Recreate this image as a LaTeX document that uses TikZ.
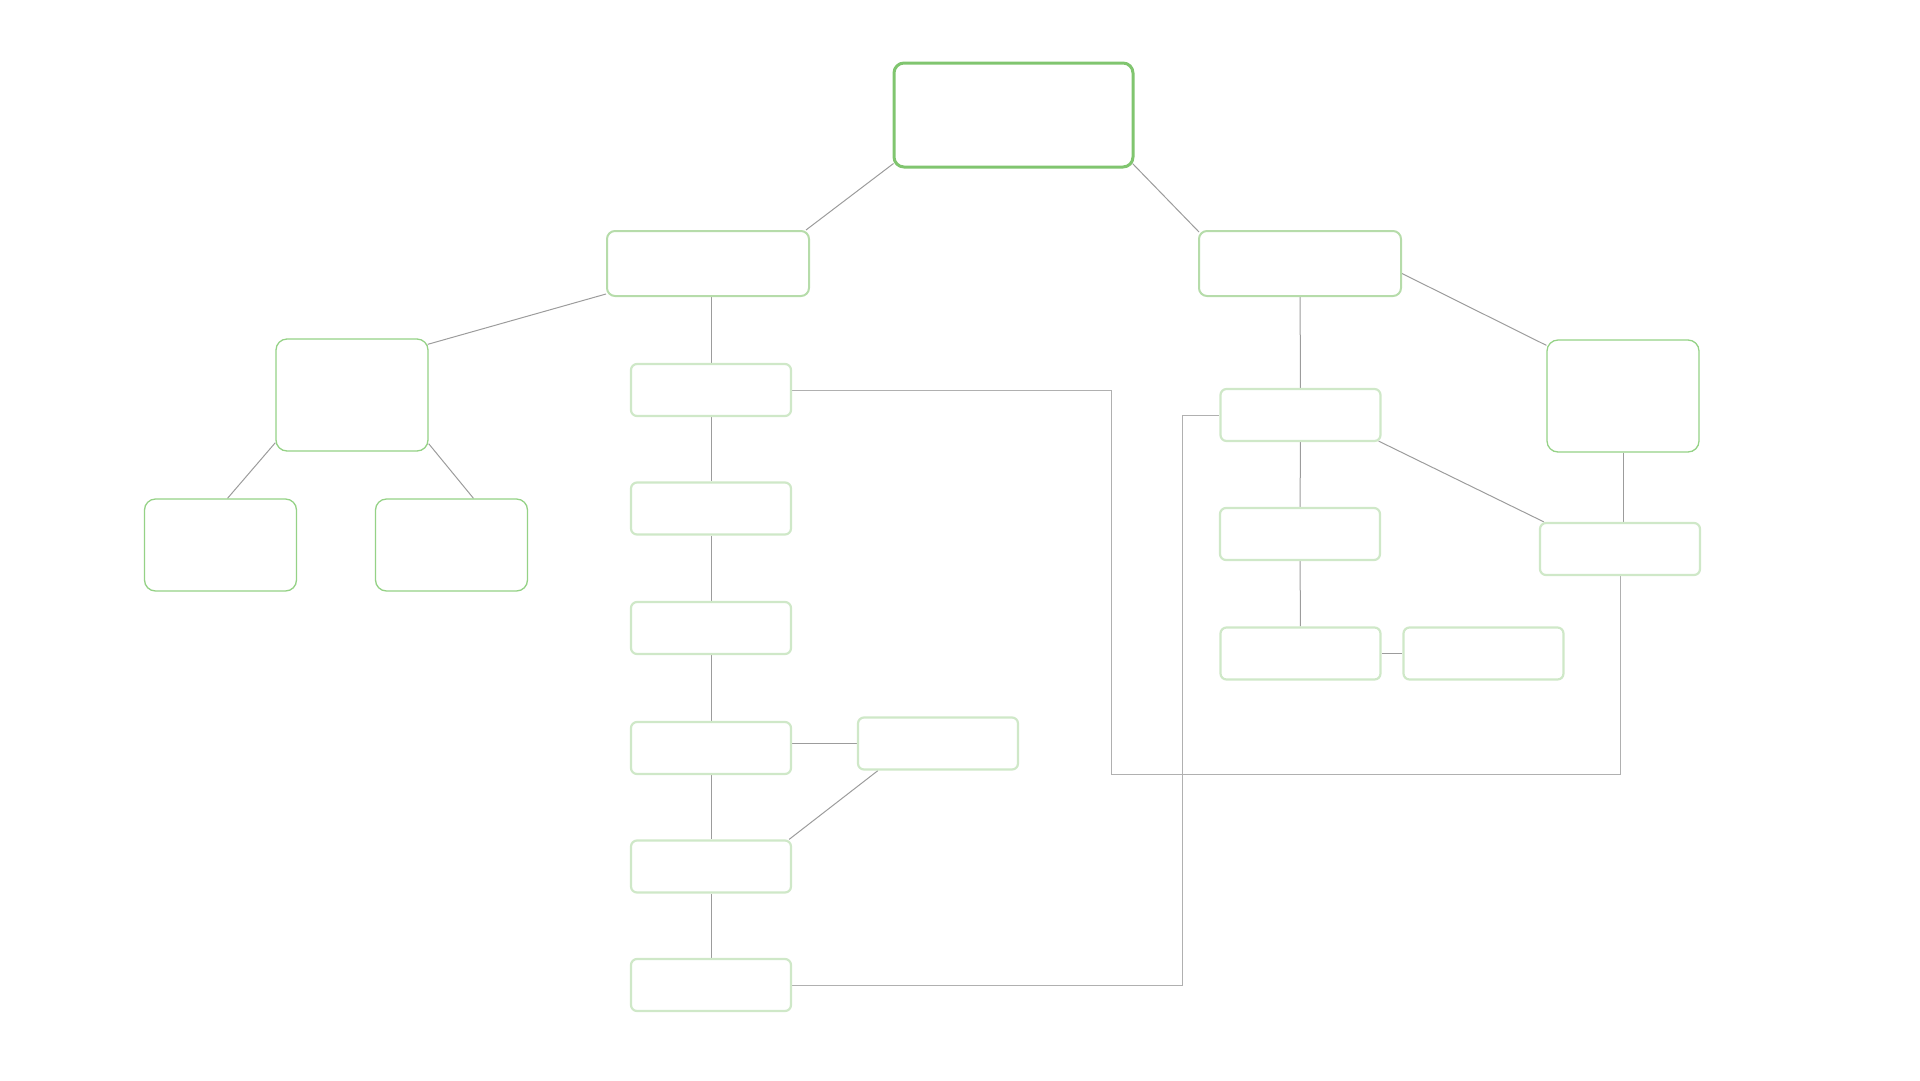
\documentclass[tikz,border=0pt]{standalone}
\usepackage{amsmath, amssymb, tikz}
\usetikzlibrary{backgrounds}

\definecolor{rootgreen}{HTML}{80C56F}
\definecolor{midgreen}{HTML}{B6DCAA}
\definecolor{leafgreen}{HTML}{95D286}
\definecolor{palegreen}{HTML}{CFE8C8}
\definecolor{linkgray}{HTML}{9C9C9C}

\begin{document}
\begin{tikzpicture}[x=1pt, y=-1pt,
    rootbox/.style={draw=rootgreen, line width=3pt, rounded corners=10pt, fill=white, minimum width=239pt, minimum height=104pt},
    mainbox/.style={draw=midgreen, line width=2pt, rounded corners=8pt, fill=white, minimum width=202pt, minimum height=65pt},
    leafbox/.style={draw=leafgreen, line width=1.3pt, rounded corners=11pt, fill=white, minimum width=152pt, minimum height=112pt},
    smallbox/.style={draw=palegreen, line width=2.2pt, rounded corners=6pt, fill=white, minimum width=160pt, minimum height=52pt},
    link/.style={draw=linkgray, line width=1pt},
    longlink/.style={draw=linkgray!80, line width=1pt}]
    \useasboundingbox (0,0) rectangle (1920,1080);

    % Nodes
    \node[rootbox] (root) at (1013.5,115) {};
    \node[mainbox] (A) at (708,263.5) {};
    \node[mainbox] (B) at (1300,263.5) {};
    \node[leafbox] (C) at (352,395) {};
    \node[leafbox, minimum height=92pt] (D1) at (220.5,545) {};
    \node[leafbox, minimum height=92pt] (D2) at (451.5,545) {};
    \node[leafbox] (H) at (1623,396) {};
    \node[smallbox] (E1) at (711,390) {};
    \node[smallbox] (E2) at (711,508.5) {};
    \node[smallbox] (E3) at (711,628) {};
    \node[smallbox] (E4) at (711,748) {};
    \node[smallbox] (E5) at (711,866.5) {};
    \node[smallbox] (E6) at (711,985) {};
    \node[smallbox] (F) at (938,743.5) {};
    \node[smallbox] (G1) at (1300.5,415) {};
    \node[smallbox] (G2) at (1300,534) {};
    \node[smallbox] (G3) at (1300.5,653.5) {};
    \node[smallbox] (G4) at (1483.5,653.5) {};
    \node[smallbox] (I) at (1620,549) {};
    \coordinate (bendA) at (1111,774);
    \coordinate (bendB) at (1182,415);

    % Edges
    \begin{scope}[on background layer]
    \draw[link] ([xshift=1pt,yshift=5pt]root.south west) -- ([xshift=-4pt]A.north east);
    \draw[link] ([xshift=-2pt,yshift=5pt]root.south east) -- ([xshift=1pt,yshift=-2pt]B.north west);
    \draw[link] ([yshift=3pt]A.south west) -- ([xshift=-1pt,yshift=-6pt]C.north east);
    \draw[link] (E1.north) -- (E1.north |- A.south);
    \draw[link] ([yshift=9pt]C.south west) -- ([xshift=7pt]D1.north);
    \draw[link] ([yshift=8pt]C.south east) -- ([xshift=22pt]D2.north);
    \draw[link] (E1) -- (E2);
    \draw[link] (E2) -- (E3);
    \draw[link] (E3) -- (E4);
    \draw[link] (E4) -- (E5);
    \draw[link] (E5) -- (E6);
    \draw[link] (F.west) -- (F.west -| E4.east);
    \draw[link] ([xshift=21pt]F.south west) -- ([xshift=-3pt]E5.north east);
    \draw[longlink] (E1.east) -| (bendA) -| (I.south);
    \draw[longlink] (E6.east) -| (bendB) -- (G1.west);
    \draw[link] (B) -- (G1);
    \draw[link] ([yshift=-10pt]B.east) -- ([yshift=-6pt]H.north west);
    \draw[link] (G1) -- (G2);
    \draw[link] (G2) -- (G3);
    \draw[link] (G3) -- (G4);
    \draw[link] ([xshift=-3pt,yshift=1pt]G1.south east) -- ([xshift=5pt]I.north west);
    \draw[link] (H.south) -- (H.south |- I.north);
    \end{scope}
  \end{tikzpicture}
\end{document}
